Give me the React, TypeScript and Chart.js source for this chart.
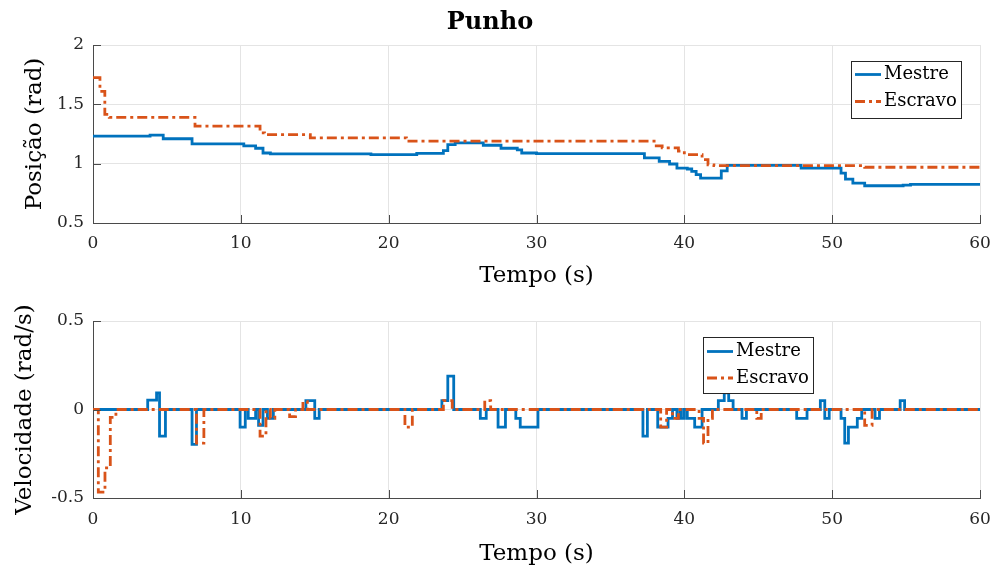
import React, { useEffect, useRef } from 'react';
import { Chart, registerables } from 'chart.js';

Chart.register(...registerables);

// ---------- data ----------
const chartTitle = 'Punho';
const seriesNames = ['Mestre', 'Escravo'];
const xTitle = 'Tempo (s)';
const posTitle = 'Posição (rad)';
const velTitle = 'Velocidade (rad/s)';

const xTicks = [0, 10, 20, 30, 40, 50, 60];
const xTickLabels = ['0', '10', '20', '30', '40', '50', '60'];
const posTicks = [0.5, 1, 1.5, 2];
const posTickLabels = ['0.5', '1', '1.5', '2'];
const velTicks = [-0.5, 0, 0.5];
const velTickLabels = ['-0.5', '0', '0.5'];

// Position (stepped: value holds from time t until next time)
const posMestreT = [0, 3.86, 4.75, 6.7, 10.2, 11.0, 11.5, 12.0, 18.8, 21.9, 23.7, 24.0, 24.5, 26.4, 27.6, 28.7, 29.0, 30.0, 37.3, 38.3, 39.0, 39.5, 40.2, 40.5, 40.8, 41.1, 42.5, 42.9, 47.9, 50.6, 50.9, 51.4, 52.2, 54.8, 55.3, 60];
const posMestreV = [1.232, 1.24, 1.21, 1.167, 1.15, 1.13, 1.09, 1.083, 1.077, 1.087, 1.11, 1.16, 1.175, 1.155, 1.13, 1.116, 1.09, 1.085, 1.048, 1.02, 0.997, 0.963, 0.955, 0.935, 0.907, 0.879, 0.94, 0.985, 0.963, 0.92, 0.87, 0.836, 0.814, 0.82, 0.826, 0.826];

const posEscravoT = [0, 0.47, 0.8, 1.1, 6.9, 11.3, 11.6, 14.7, 21.2, 38.1, 38.5, 39.6, 40.0, 41.2, 41.6, 42.0, 52.2, 60];
const posEscravoV = [1.725, 1.61, 1.415, 1.39, 1.316, 1.26, 1.245, 1.218, 1.19, 1.15, 1.133, 1.105, 1.076, 1.034, 0.99, 0.983, 0.97, 0.97];

// Velocity (stepped)
const velMestreT = [0, 3.7, 4.3, 4.5, 4.9, 6.7, 7.0, 9.95, 10.3, 10.5, 11.0, 11.2, 11.5, 11.8, 12.2, 14.4, 15.0, 15.3, 23.6, 24.0, 24.4, 26.2, 26.6, 27.4, 27.9, 28.6, 28.9, 30.1, 37.2, 37.5, 38.2, 38.9, 39.2, 39.5, 39.7, 39.8, 40.0, 40.2, 40.7, 41.2, 42.3, 42.7, 43.0, 43.3, 43.9, 44.2, 47.6, 48.3, 49.2, 49.5, 49.8, 50.6, 50.85, 51.1, 51.7, 52.0, 52.9, 53.2, 54.6, 54.9, 60];
const velMestreV = [0, 0.053, 0.094, -0.15, 0, -0.197, 0, -0.1, 0, -0.05, 0, -0.09, 0, -0.05, 0, 0.05, -0.05, 0, 0.05, 0.188, 0, -0.05, 0, -0.1, 0, -0.05, -0.1, 0, -0.15, 0, -0.1, -0.05, 0, -0.05, 0, -0.05, 0, -0.05, -0.1, 0, 0.05, 0.094, 0.05, 0, -0.05, 0, -0.05, 0, 0.05, -0.05, 0, -0.05, -0.19, -0.1, -0.05, 0, -0.05, 0, 0.05, 0, 0];

const velEscravoT = [0, 0.36, 0.81, 1.17, 1.55, 7.0, 7.5, 11.3, 11.7, 12.0, 12.3, 13.3, 13.7, 14.2, 14.5, 21.1, 21.6, 23.7, 24.3, 26.5, 26.9, 38.4, 38.8, 39.2, 39.6, 41.0, 41.3, 41.6, 41.9, 44.9, 45.2, 52.2, 52.7, 60];
const velEscravoV = [0, -0.467, -0.33, -0.044, 0, -0.19, 0, -0.15, 0, -0.05, 0, -0.04, 0, 0.045, 0, -0.1, 0, 0.05, 0, 0.05, 0, -0.1, 0, -0.05, 0, -0.05, -0.19, -0.05, 0, -0.05, 0, -0.09, 0, 0];

// ---------- styling ----------
const FONT = "'DejaVu Serif', 'Liberation Serif', serif";
const BLUE = '#0072BD';
const ORANGE = '#D95319';
const AXIS = '#4a4a4a';
const GRID = '#e4e4e4';

const toPts = (t: number[], v: number[]) => t.map((x, i) => ({ x, y: v[i] }));

const innerTicks = {
  id: 'innerTicks',
  afterDraw(chart: any) {
    const { ctx, chartArea, scales } = chart;
    ctx.save();
    ctx.strokeStyle = AXIS;
    ctx.lineWidth = 1;
    ctx.beginPath();
    scales.x.ticks.forEach((tk: any) => {
      const px = Math.round(scales.x.getPixelForValue(tk.value)) + 0.5;
      ctx.moveTo(px, chartArea.bottom);
      ctx.lineTo(px, chartArea.bottom - 8);
    });
    scales.y.ticks.forEach((tk: any) => {
      const py = Math.round(scales.y.getPixelForValue(tk.value)) + 0.5;
      ctx.moveTo(chartArea.left, py);
      ctx.lineTo(chartArea.left + 8, py);
    });
    ctx.stroke();
    ctx.restore();
  },
};

const boxLegend = {
  id: 'boxLegend',
  afterDraw(chart: any, _args: any, opts: any) {
    if (!opts || opts.left === undefined) return;
    const { ctx } = chart;
    const { left, top, width, height, rows } = opts;
    ctx.save();
    ctx.fillStyle = '#ffffff';
    ctx.fillRect(left, top, width, height);
    ctx.strokeStyle = '#262626';
    ctx.lineWidth = 1;
    ctx.setLineDash([]);
    ctx.strokeRect(left + 0.5, top + 0.5, width, height);
    chart.data.datasets.forEach((ds: any, i: number) => {
      const cy = top + rows[i];
      ctx.strokeStyle = ds.borderColor;
      ctx.lineWidth = ds.borderWidth;
      ctx.setLineDash(ds.borderDash || []);
      ctx.beginPath();
      ctx.moveTo(left + 4, cy);
      ctx.lineTo(left + 30, cy);
      ctx.stroke();
      ctx.setLineDash([]);
      ctx.fillStyle = '#000000';
      ctx.font = `18px ${FONT}`;
      ctx.textBaseline = 'middle';
      ctx.textAlign = 'left';
      ctx.fillText(ds.label, left + 33, cy);
    });
    ctx.restore();
  },
};

function makeConfig(p: {
  mT: number[]; mV: number[]; eT: number[]; eV: number[];
  yTicks: number[]; yLabels: string[]; yMin: number; yMax: number; yTitle: string; yTitlePad: number;
  xHeight: number; padTop: number; xTitlePad: number; xTickPad: number;
  showTitle: boolean; legend: any;
}): any {
  return {
    type: 'line',
    data: {
      datasets: [
        {
          label: seriesNames[0],
          data: toPts(p.mT, p.mV),
          borderColor: BLUE,
          backgroundColor: BLUE,
          borderWidth: 2.8,
          stepped: true,
          pointRadius: 0,
          fill: false,
          borderCapStyle: 'butt',
          order: 1,
        },
        {
          label: seriesNames[1],
          data: toPts(p.eT, p.eV),
          borderColor: ORANGE,
          backgroundColor: ORANGE,
          borderWidth: 2.8,
          borderDash: [10, 4, 3, 4],
          stepped: true,
          pointRadius: 0,
          fill: false,
          borderCapStyle: 'butt',
          order: 0,
        },
      ],
    },
    options: {
      responsive: false,
      animation: false,
      events: [],
      layout: { padding: { left: 0, right: 15, top: p.padTop, bottom: 0 } },
      plugins: {
        legend: { display: false },
        tooltip: { enabled: false },
        title: {
          display: p.showTitle,
          text: chartTitle,
          color: '#000000',
          font: { family: FONT, size: 24, weight: 'bold' },
          padding: { top: 8, bottom: 8.2 },
        },
        boxLegend: p.legend,
      },
      scales: {
        x: {
          type: 'linear',
          min: 0,
          max: 60,
          afterBuildTicks: (s: any) => { s.ticks = xTicks.map((v) => ({ value: v })); },
          afterFit: (s: any) => { s.height = p.xHeight; s.paddingLeft = 0; s.paddingRight = 0; },
          ticks: {
            color: '#262626',
            font: { family: FONT, size: 17 },
            padding: p.xTickPad,
            maxRotation: 0,
            callback: (_v: any, i: number) => xTickLabels[i],
          },
          grid: { color: GRID, lineWidth: 1, drawTicks: false },
          border: { display: true, color: AXIS, width: 1 },
          title: {
            display: true,
            text: xTitle,
            color: '#000000',
            font: { family: FONT, size: 23 },
            padding: { top: 0, bottom: p.xTitlePad },
          },
        },
        y: {
          type: 'linear',
          min: p.yMin,
          max: p.yMax,
          afterBuildTicks: (s: any) => { s.ticks = p.yTicks.map((v) => ({ value: v })); },
          afterFit: (s: any) => { s.width = 93; s.paddingTop = 0; s.paddingBottom = 0; },
          ticks: {
            color: '#262626',
            font: { family: FONT, size: 17 },
            padding: 9,
            callback: (_v: any, i: number) => p.yLabels[i],
          },
          grid: { color: GRID, lineWidth: 1, drawTicks: false },
          border: { display: true, color: AXIS, width: 1 },
          title: {
            display: true,
            text: p.yTitle,
            color: '#000000',
            font: { family: FONT, size: 23 },
            padding: { top: p.yTitlePad, bottom: 0 },
          },
        },
      },
    },
    plugins: [innerTicks, boxLegend],
  };
}

export default function App() {
  const topRef = useRef<HTMLCanvasElement>(null);
  const botRef = useRef<HTMLCanvasElement>(null);

  useEffect(() => {
    const top = new Chart(topRef.current as HTMLCanvasElement, makeConfig({
      mT: posMestreT, mV: posMestreV, eT: posEscravoT, eV: posEscravoV,
      yTicks: posTicks, yLabels: posTickLabels, yMin: 0.5, yMax: 2, yTitle: posTitle, yTitlePad: 21,
      xHeight: 67, padTop: 0, xTitlePad: 0, xTickPad: 10,
      showTitle: true,
      legend: { left: 851, top: 61, width: 110, height: 57, rows: [13.5, 40.5] },
    }));
    const bot = new Chart(botRef.current as HTMLCanvasElement, makeConfig({
      mT: velMestreT, mV: velMestreV, eT: velEscravoT, eV: velEscravoV,
      yTicks: velTicks, yLabels: velTickLabels, yMin: -0.5, yMax: 0.5, yTitle: velTitle, yTitlePad: 11,
      xHeight: 70, padTop: 31, xTitlePad: 0, xTickPad: 11,
      showTitle: false,
      legend: { left: 703, top: 47, width: 110, height: 56, rows: [14.5, 41] },
    }));
    return () => { top.destroy(); bot.destroy(); };
  }, []);

  return (
    <div style={{ position: 'absolute', left: 0, top: 0, width: 995, height: 568, background: '#ffffff' }}>
      <canvas ref={topRef} width={995} height={290} style={{ position: 'absolute', left: 0, top: 0, display: 'block' }} />
      <canvas ref={botRef} width={995} height={278} style={{ position: 'absolute', left: 0, top: 290, display: 'block' }} />
    </div>
  );
}
